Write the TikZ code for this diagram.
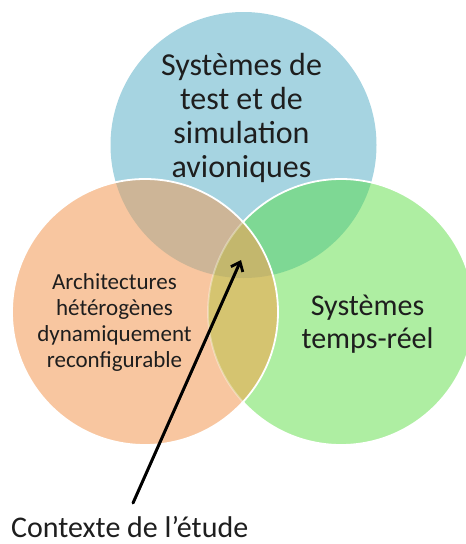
\documentclass[tikz,border=0pt]{standalone}
\usepackage{fontspec}
\setmainfont{Carlito}
\usetikzlibrary{arrows.meta}

% region colours of the three-set diagram
\definecolor{cBlue}{HTML}{A6D4E1}
\definecolor{cGreen}{HTML}{AEEEA2}
\definecolor{cOrange}{HTML}{F8C6A0}
\definecolor{cBlueGreen}{HTML}{7ED894}
\definecolor{cBlueOrange}{HTML}{CDB597}
\definecolor{cOrangeGreen}{HTML}{D5C470}
\definecolor{cAll}{HTML}{C3B76D}
\definecolor{cText}{HTML}{1E1E1E}

\begin{document}
\begin{tikzpicture}[x=1pt,y=-1pt,
  rim/.style={draw=white,line width=1.8pt},
  label/.style={text=cText,align=center,inner sep=0pt},
  pointer/.style={draw=black,line width=3pt,line cap=round,
    -{Straight Barb[length=8pt,width=13pt,line width=2.8pt]}}
]
\useasboundingbox (0,0) rectangle (466,544);

% circle centres
\coordinate (B) at (243.5,145);
\coordinate (G) at (341,312);
\coordinate (O) at (145,312);
\def\rad{133pt}

% blue and green discs with their overlap
\fill[cBlue] (B) circle (\rad);
\fill[cGreen] (G) circle (\rad);
\begin{scope}
  \clip (B) circle (\rad);
  \fill[cBlueGreen] (G) circle (\rad);
\end{scope}
\draw[rim] (G) circle (\rad);

% orange disc on top, with its overlaps
\fill[cOrange] (O) circle (\rad);
\begin{scope}
  \clip (B) circle (\rad);
  \fill[cBlueOrange] (O) circle (\rad);
\end{scope}
\begin{scope}
  \clip (G) circle (\rad);
  \fill[cOrangeGreen] (O) circle (\rad);
  \clip (B) circle (\rad);
  \fill[cAll] (O) circle (\rad);
\end{scope}
% green rim seen through the orange disc
\begin{scope}
  \clip (O) circle (\rad);
  \draw[rim,draw opacity=0.35] (G) circle (\rad);
\end{scope}
\draw[rim] (O) circle (\rad);

% set labels
\node[label,font=\fontsize{32}{34.3}\selectfont] (tsim) at (241.5,118)
  {Systèmes de\\test et de\\simulation\\avioniques};
\node[label,font=\fontsize{30}{33}\selectfont] (trt) at (367.5,324)
  {Systèmes\\temps-réel};
\node[label,font=\fontsize{23}{26}\selectfont] (tarch) at (114.5,322)
  {Architectures\\hétérogènes\\dynamiquement\\reconfigurable};

% caption and pointer to the common region
\node[label,font=\fontsize{30}{36}\selectfont,anchor=base west] (ctx) at (11,537)
  {Contexte de l’étude};
\coordinate (tail) at (133,503);
\coordinate (tip) at (241,260);
\draw[pointer] (tail) -- (tip);
\end{tikzpicture}
\end{document}
